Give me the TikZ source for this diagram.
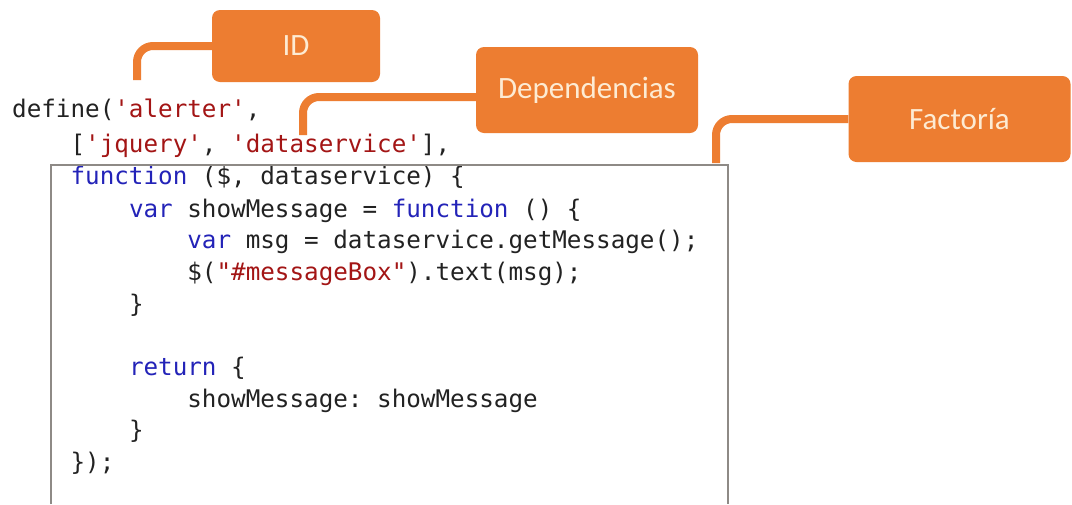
\documentclass[tikz,border=0pt]{standalone}
\usepackage{fontspec}
\setmainfont{Carlito}
\setmonofont{DejaVu Sans Mono}
\usetikzlibrary{positioning}
\definecolor{accent}{HTML}{ED7D31}
\definecolor{tagtext}{HTML}{FDEBD3}
\definecolor{codetext}{HTML}{222222}
\definecolor{keyword}{HTML}{2323B8}
\definecolor{strlit}{HTML}{A31515}
\definecolor{framegray}{HTML}{8E8A86}
\newcommand{\jskw}[1]{\textcolor{keyword}{#1}}
\newcommand{\jsstr}[1]{\textcolor{strlit}{#1}}
\tikzset{
  tag/.style={fill=accent, text=tagtext, rounded corners=8pt, minimum width=222pt,
    minimum height=86pt, inner sep=0pt, font=\fontsize{31}{36}\selectfont},
  link/.style={draw=accent, line width=8pt, rounded corners=16pt},
  code/.style={anchor=base west, inner sep=0pt, text=codetext,
    font=\ttfamily\fontsize{24.25}{29}\selectfont},
}

\begin{document}
\begin{tikzpicture}[x=1pt, y=-1pt]
    \fill[white] (0,0) rectangle (1072,504);
    \useasboundingbox (0,0) rectangle (1072,504);

    % code listing
    \node[code] (l1) at (12,117) {define(\jsstr{'alerter'},};
    \node[code] (l2) at (70.4,152) {[\jsstr{'jquery'}, \jsstr{'dataservice'}],};
    \node[code] (l3) at (70.4,184) {\jskw{function} (\$, dataservice) \{};
    \node[code] (l4) at (128.8,217) {\jskw{var} showMessage = \jskw{function} () \{};
    \node[code] (l5) at (187.2,248.7) {\jskw{var} msg = dataservice.getMessage();};
    \node[code] (l6) at (187.2,280.4) {\$(\jsstr{"\#messageBox"}).text(msg);};
    \node[code] (l7) at (128.8,312.1) {\}};
    \node[code] (l9) at (128.8,375.5) {\jskw{return} \{};
    \node[code] (l10) at (187.2,407.2) {showMessage: showMessage};
    \node[code] (l11) at (128.8,438.9) {\}};
    \node[code] (l12) at (70.4,470.6) {\});};

    % frame round the factory function
    \draw[framegray, line width=1.5pt] (51,504) |- (728,165) -- (728,504);

    % labels
    \node[tag, minimum width=168pt, minimum height=72pt] (id) at (296,46) {ID};
    \node[tag] (dep) at (587,90) {Dependencias};
    \node[tag] (fac) at (959.5,119) {Factoría};

    \coordinate (idfoot) at (137,80);
    \coordinate (depfoot) at (303,135);
    \coordinate (facfoot) at (716,163);
    \draw[link] (idfoot) |- (id.west);
    \draw[link] (depfoot) |- ([yshift=-7pt]dep.west);
    \draw[link] (facfoot) |- (fac.west);
\end{tikzpicture}
\end{document}
